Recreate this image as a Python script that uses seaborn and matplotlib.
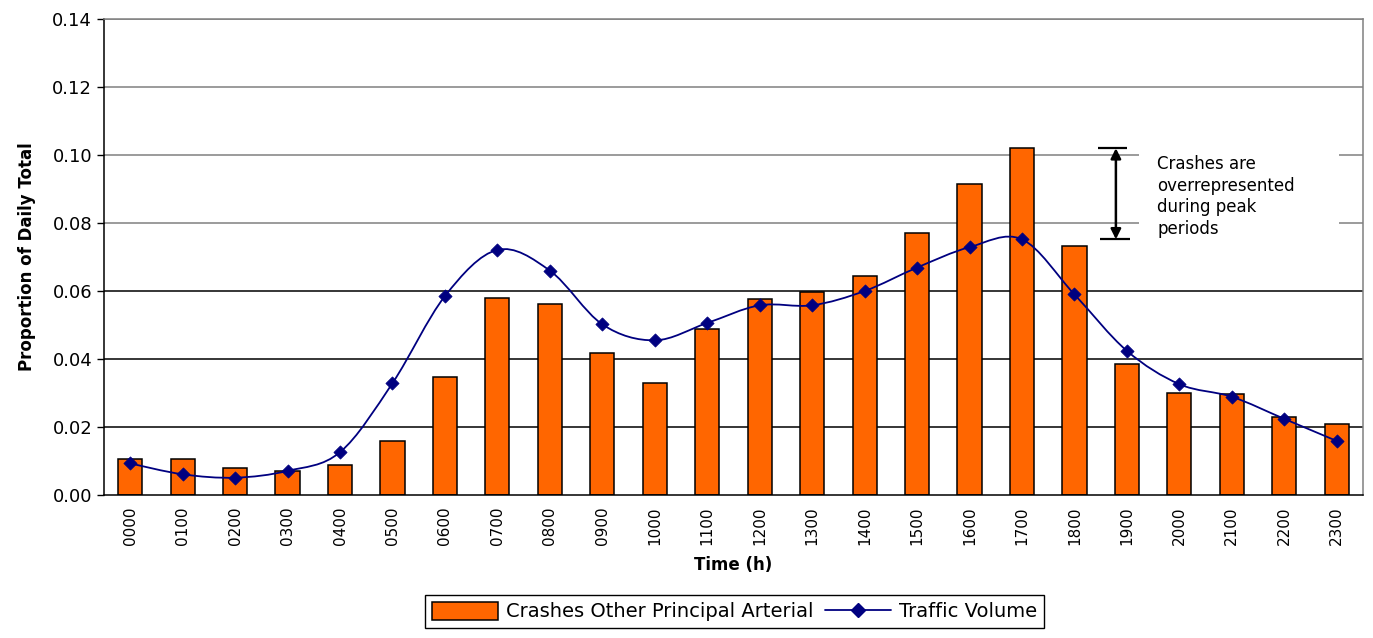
import numpy as np
import pandas as pd
import seaborn as sns
import matplotlib.pyplot as plt
from matplotlib.path import Path
from matplotlib.patches import PathPatch, Rectangle, Patch
from matplotlib.lines import Line2D

# hourly values
hours = ['0000', '0100', '0200', '0300', '0400', '0500', '0600', '0700',
         '0800', '0900', '1000', '1100', '1200', '1300', '1400', '1500',
         '1600', '1700', '1800', '1900', '2000', '2100', '2200', '2300']
crashes = [0.0107, 0.0107, 0.0079, 0.0071, 0.0089, 0.0159, 0.0348, 0.0580,
           0.0562, 0.0419, 0.0330, 0.0487, 0.0576, 0.0597, 0.0644, 0.0770,
           0.0916, 0.1020, 0.0733, 0.0385, 0.0301, 0.0298, 0.0229, 0.0209]
traffic = [0.0093, 0.0061, 0.0051, 0.0071, 0.0126, 0.0329, 0.0585, 0.0721,
           0.0660, 0.0502, 0.0455, 0.0506, 0.0558, 0.0558, 0.0600, 0.0669,
           0.0729, 0.0752, 0.0590, 0.0424, 0.0326, 0.0289, 0.0224, 0.0159]
yticks = [0.00, 0.02, 0.04, 0.06, 0.08, 0.10, 0.12, 0.14]

df = pd.DataFrame({'hour': hours, 'crashes': crashes, 'traffic': traffic})
df['pos'] = np.arange(len(df))

sns.set_style('white')
plt.rcParams['font.family'] = ['DejaVu Sans']
plt.rcParams['text.color'] = 'black'
plt.rcParams['axes.labelcolor'] = 'black'
plt.rcParams['xtick.color'] = 'black'
plt.rcParams['ytick.color'] = 'black'

fig = plt.figure(figsize=(13.73, 6.38), dpi=100)
ax = fig.add_axes([0.0757, 0.2241, 0.9170, 0.7461])

# gridlines: grey in the upper part, black lower down
for t in yticks[1:]:
    ax.axhline(t, color='#808080' if t >= 0.075 else 'black', lw=1.1, zorder=0)

sns.barplot(data=df, x='hour', y='crashes', color='#FF6600', edgecolor='black',
            linewidth=1.1, width=0.46, saturation=1, ax=ax, zorder=2)

# smoothed line through the traffic points (bezier like the spreadsheet)
pts = df[['pos', 'traffic']].to_numpy(dtype=float)
verts = [pts[0]]
codes = [Path.MOVETO]
n = len(pts)
for i in range(n - 1):
    p_prev = pts[max(i - 1, 0)]
    p_next = pts[min(i + 2, n - 1)]
    c1 = pts[i] + (pts[i + 1] - p_prev) / 6
    c2 = pts[i + 1] - (p_next - pts[i]) / 6
    verts += [c1, c2, pts[i + 1]]
    codes += [Path.CURVE4] * 3
ax.add_patch(PathPatch(Path(verts, codes), facecolor='none', edgecolor='#000080',
                       lw=1.3, zorder=3))
sns.scatterplot(data=df, x='pos', y='traffic', marker='D', color='#000080',
                s=45, edgecolor='#000080', ax=ax, zorder=4)

ax.set_xlim(-0.5, 23.5)
ax.set_ylim(0, 0.14)
ax.set_yticks(yticks)
ax.set_yticklabels([f'{t:.2f}' for t in yticks], fontsize=13)
ax.set_xticks(df['pos'])
ax.set_xticklabels(hours, rotation=90, fontsize=11)
ax.set_xticks(np.arange(-0.5, 24, 1), minor=True)
ax.tick_params(axis='x', which='major', length=0, pad=8)
ax.tick_params(axis='x', which='minor', length=6, width=1, color='black', direction='out')
ax.tick_params(axis='y', length=5, width=1, color='black', direction='out', left=True)

for side in ['left', 'bottom']:
    ax.spines[side].set_color('black')
    ax.spines[side].set_linewidth(1.1)
for side in ['top', 'right']:
    ax.spines[side].set_color('#808080')
    ax.spines[side].set_linewidth(1.1)

ax.set_xlabel('Time (h)', fontsize=12, fontweight='bold', labelpad=8)
ax.set_ylabel('Proportion of Daily Total', fontsize=12, fontweight='bold', labelpad=12)

# annotation: white box over the gridlines, double arrow and text
ax.add_patch(Rectangle((19.23, 0.074), 3.82, 0.031, facecolor='white',
                       edgecolor='none', zorder=1))
ax.annotate('', xy=(18.79, 0.1020), xytext=(18.79, 0.0752),
            arrowprops=dict(arrowstyle='<|-|>', color='black', lw=1.8,
                            shrinkA=0, shrinkB=0, mutation_scale=15), zorder=5)
ax.hlines(0.1020, 18.45, 19.0, color='black', lw=1.6, zorder=5)
ax.hlines(0.0752, 18.49, 19.05, color='black', lw=1.6, zorder=5)
ax.text(19.58, 0.1000, 'Crashes are\noverrepresented\nduring peak\nperiods',
        fontsize=12, va='top', ha='left', linespacing=1.25, zorder=5)

handles = [Patch(facecolor='#FF6600', edgecolor='black', linewidth=1.1),
           Line2D([], [], color='#000080', marker='D', markersize=7, lw=1.3)]
fig.legend(handles, ['Crashes Other Principal Arterial', 'Traffic Volume'],
           loc='lower center', bbox_to_anchor=(0.535, 0.0), ncol=2, fontsize=14,
           frameon=True, fancybox=False, edgecolor='black', framealpha=1,
           handlelength=3.4, handleheight=1.1, columnspacing=0.6, handletextpad=0.4,
           borderpad=0.35)

fig.savefig('out.png', dpi=100)
